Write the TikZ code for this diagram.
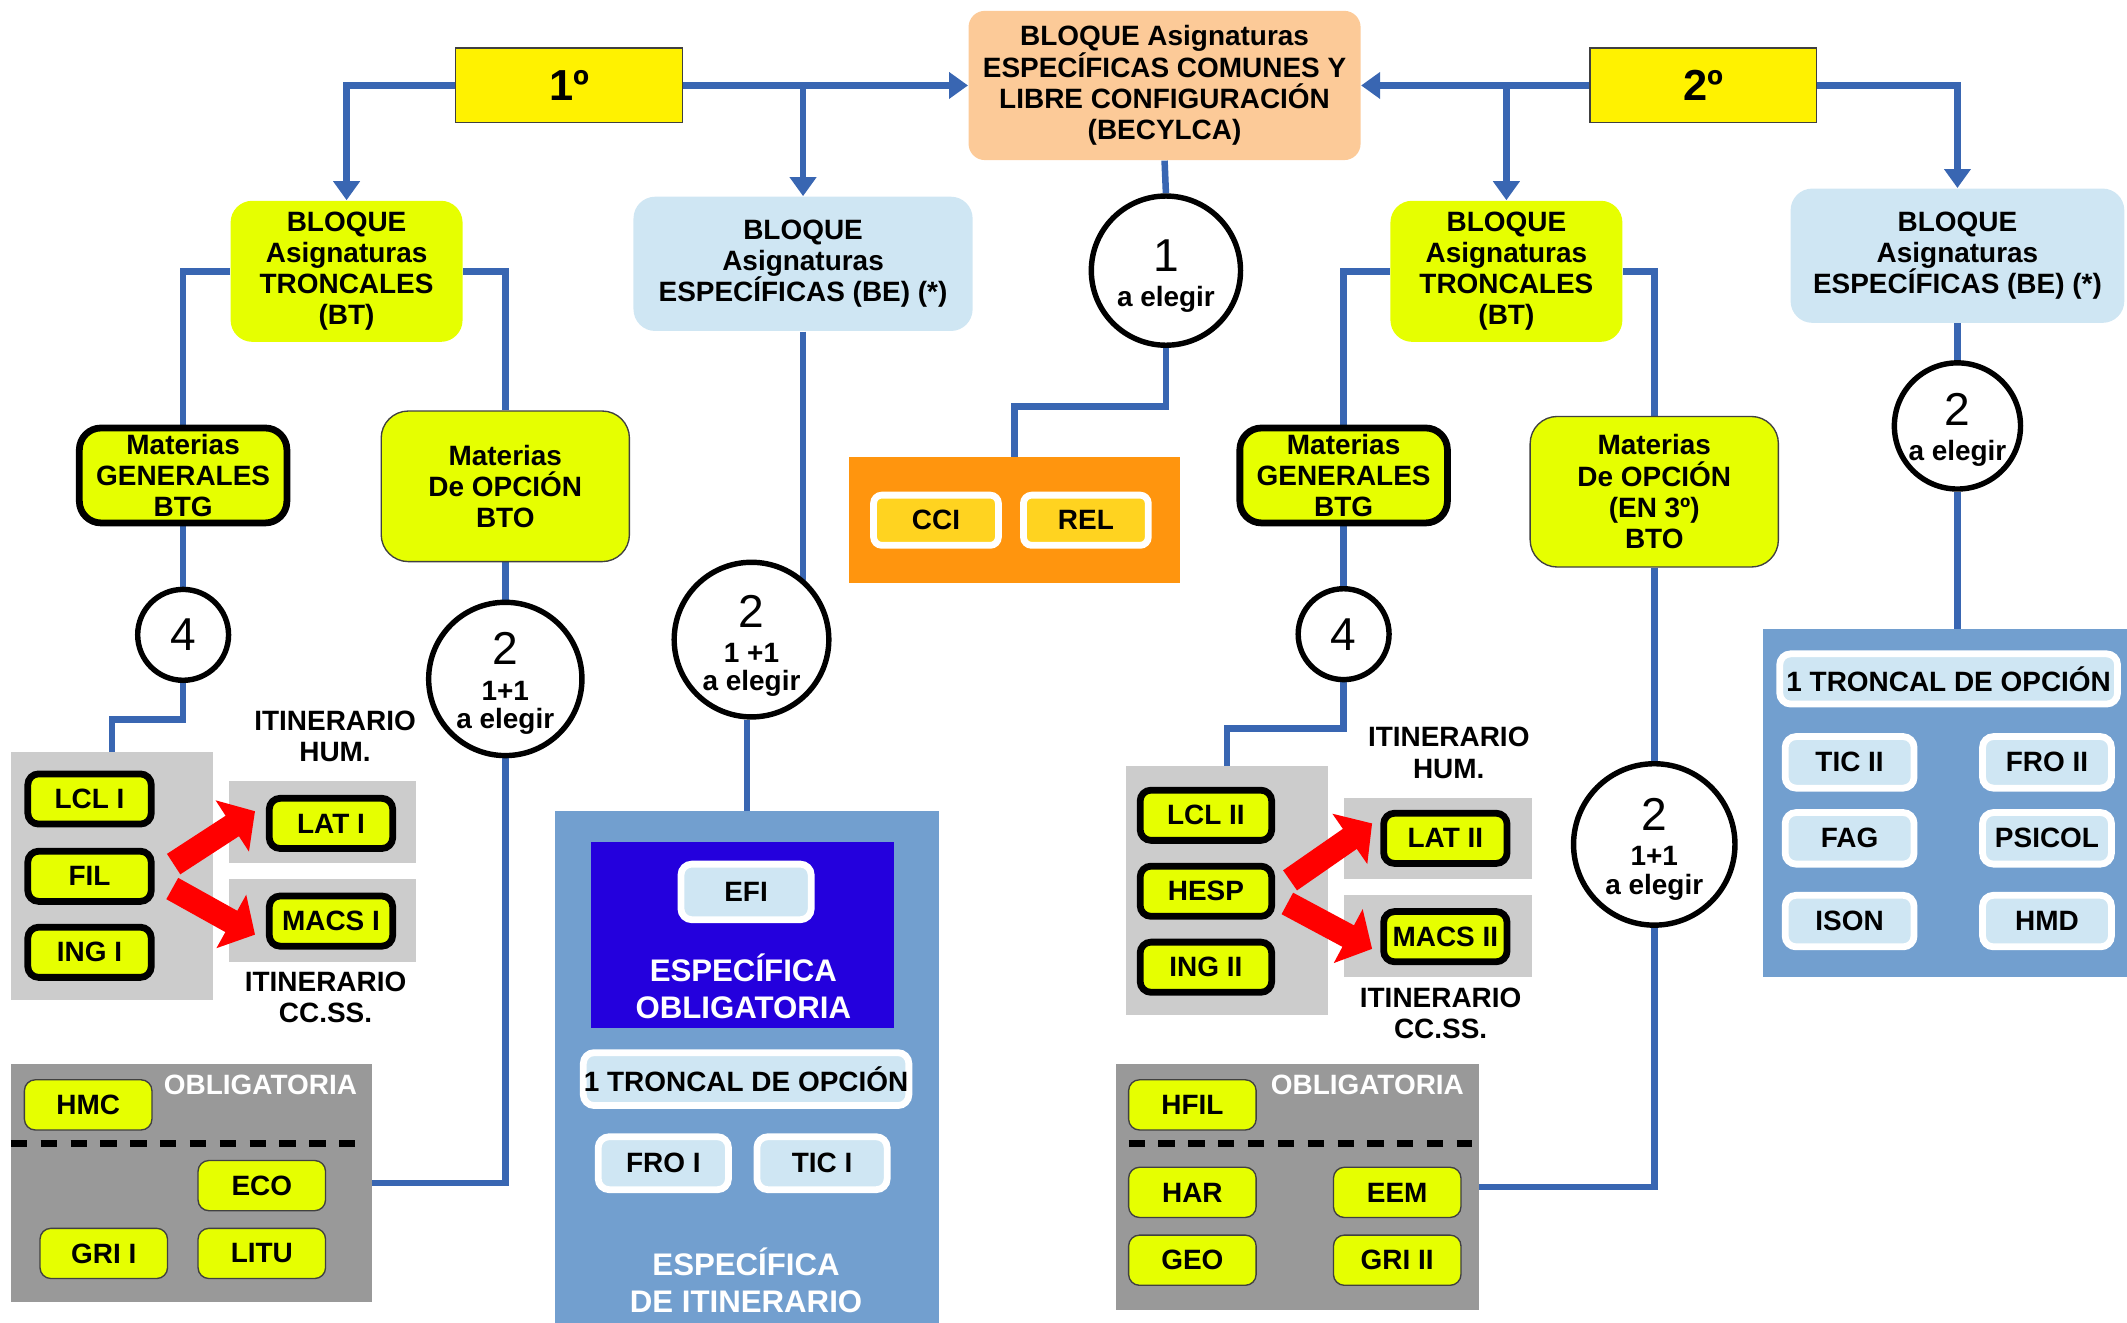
\documentclass[tikz,border=0pt]{standalone}
\usepackage{fontspec}
\setmainfont{Liberation Sans}
\usetikzlibrary{arrows.meta,backgrounds,calc}
\definecolor{lineblue}{RGB}{57,102,178}
\definecolor{lime}{RGB}{230,255,0}
\definecolor{peach}{RGB}{252,202,152}
\definecolor{paleblue}{RGB}{207,230,243}
\definecolor{panelblue}{RGB}{114,159,207}
\definecolor{deepblue}{RGB}{36,0,221}
\definecolor{orangebg}{RGB}{255,149,14}
\definecolor{gold}{RGB}{255,211,32}
\definecolor{lgray}{RGB}{204,204,204}
\definecolor{dgray}{RGB}{153,153,153}

\begin{document}
\begin{tikzpicture}[x=0.5pt, y=-0.5pt, font=\bfseries\fontsize{10.3}{11.5}\selectfont]
\tikzstyle{bloq}=[rounded corners=8pt, align=center, inner sep=0pt]
\tikzstyle{year}=[bloq, rounded corners=0pt, fill=yellow, draw=black!75, line width=0.5pt, minimum width=83.5pt, minimum height=27.5pt, font=\bfseries\fontsize{16}{18}\selectfont]
\tikzstyle{trunk}=[bloq, fill=lime, minimum width=85.5pt, minimum height=52pt]
\tikzstyle{spec}=[bloq, fill=paleblue, minimum width=125pt, minimum height=49.5pt]
\tikzstyle{general}=[bloq, fill=lime, draw=black, line width=2.5pt, minimum width=76.5pt, minimum height=35pt]
\tikzstyle{option}=[bloq, rounded corners=10pt, fill=lime, draw=black!75, line width=0.5pt, minimum width=91.5pt, minimum height=55.5pt]
\tikzstyle{course}=[bloq, rounded corners=4pt, fill=lime, draw=black, line width=2.5pt, minimum width=45.5pt, minimum height=18.5pt]
\tikzstyle{plain}=[bloq, rounded corners=4pt, fill=lime, draw=black!75, line width=0.5pt, minimum width=47pt, minimum height=18.5pt]
\tikzstyle{chip}=[bloq, rounded corners=4pt, fill=paleblue, draw=white, line width=2.5pt, minimum width=48pt, minimum height=19.5pt]
\tikzstyle{free}=[bloq, rounded corners=3pt, fill=gold, draw=white, line width=2.5pt, minimum width=46pt, minimum height=18.5pt]
\tikzstyle{zone}=[inner sep=0pt, outer sep=0pt]
\tikzstyle{ring}=[circle, draw=black, line width=2pt, fill=white, inner sep=0pt]
\tikzstyle{digit}=[font=\mdseries\fontsize{17}{20}\selectfont]
\tikzstyle{whitetxt}=[align=center, text=white, font=\bfseries\fontsize{11.5}{13.5}\selectfont]
\tikzstyle{link}=[draw=lineblue, line width=2.4pt]
\tikzstyle{tip}=[-{Triangle[length=7pt,width=9.5pt]}]
\tikzstyle{push}=[draw=red, line width=9pt, -{Triangle[length=10pt,width=22pt]}]

\useasboundingbox (0,0) rectangle (1568,975);

% top row
\node[year] (first) at (419.5,63) {1º};
\node[year] (second) at (1255.5,63) {2º};
\node[bloq, fill=peach, rounded corners=6pt, minimum width=144.5pt, minimum height=55pt] (becyl) at (858.5,63) {BLOQUE Asignaturas\\ESPECÍFICAS COMUNES Y\\LIBRE CONFIGURACIÓN\\(BECYLCA)};

\node[trunk] (bt1) at (255.5,200) {BLOQUE\\Asignaturas\\TRONCALES\\(BT)};
\node[spec] (be1) at (592,194.5) {BLOQUE\\Asignaturas\\ESPECÍFICAS (BE) (*)};
\node[trunk] (bt2) at (1110.5,200) {BLOQUE\\Asignaturas\\TRONCALES\\(BT)};
\node[spec, minimum width=123pt] (be2) at (1443,188.5) {BLOQUE\\Asignaturas\\ESPECÍFICAS (BE) (*)};

% BECYLCA
\node[ring, minimum size=55pt] (pick1) at (859.5,199.5) {};
\node[digit] (pick1n) at ($(pick1)+(0,-11)$) {1};
\node (pick1t) at ($(pick1)+(0,21)$) {a elegir};
\node[zone, fill=orangebg, minimum width=122pt, minimum height=46.5pt] (orb) at (748,383.5) {};
\node[free] (cci) at (690,383.5) {CCI};
\node[free] (rel) at (800.5,383.5) {REL};

% 1º troncales
\node[general] (mg1) at (135,350.5) {Materias\\GENERALES\\BTG};
\node[option] (mo1) at (372.5,358.5) {Materias\\De OPCIÓN\\BTO};
\node[ring, minimum size=33.5pt] (four1) at (135,468) {};
\node[digit] (four1n) at (four1) {4};
\node[ring, minimum size=56.5pt] (pick2) at (372.5,500.5) {};
\node[digit] (pick2n) at ($(pick2)+(0,-22.5)$) {2};
\node (pick2m) at ($(pick2)+(0,8.5)$) {1+1};
\node (pick2t) at ($(pick2)+(0,31.5)$) {a elegir};

\node[zone, fill=lgray, minimum width=74.5pt, minimum height=91.5pt] (gb1) at (82.5,645.5) {};
\node[course] (lcl1) at (66,589) {LCL I};
\node[course] (fil) at (66,646) {FIL};
\node[course] (ing1) at (66,702) {ING I};
\node[zone, fill=lgray, minimum width=69pt, minimum height=30pt] (glat1) at (238,606) {};
\node[course] (lat1) at (244,607) {LAT I};
\node[zone, fill=lgray, minimum width=69pt, minimum height=30.5pt] (gmacs1) at (238,678.5) {};
\node[course] (macs1) at (244,679) {MACS I};
\node[align=center] (hum1) at (247,543) {ITINERARIO\\HUM.};
\node[align=center] (ccss1) at (240,735) {ITINERARIO\\CC.SS.};

\node[zone, fill=dgray, minimum width=133pt, minimum height=88pt] (gb2) at (141,872) {};
\node[plain] (hmc) at (65,814.5) {HMC};
\node[text=white] (obl1) at (192,800) {OBLIGATORIA};
\node[plain] (eco) at (193,874) {ECO};
\node[plain] (gri1) at (76.5,924) {GRI I};
\node[plain] (litu) at (193,924) {LITU};
\draw[line width=2.5pt, dash pattern=on 6pt off 5pt] ([yshift=14.5pt]gb2.west) -- ([yshift=14.5pt, xshift=-6pt]gb2.east);

% 1º especificas
\node[ring, minimum size=57pt] (pick3) at (554,471.5) {};
\node[digit] (pick3n) at ($(pick3)+(0,-20.5)$) {2};
\node (pick3m) at ($(pick3)+(0,9.5)$) {1 +1};
\node (pick3t) at ($(pick3)+(0,32.5)$) {a elegir};
\node[zone, fill=panelblue, minimum width=141.5pt, minimum height=188.5pt] (bp1) at (550.5,786.5) {};
\node[zone, fill=deepblue, minimum width=111.5pt, minimum height=68.5pt] (oblig) at (547.5,689.5) {};
\node[chip, minimum height=20.5pt] (efi) at (550,657.5) {EFI};
\node[whitetxt] (obltxt) at (548,727) {ESPECÍFICA\\OBLIGATORIA};
\node[chip, minimum width=120pt] (tro1) at (550,795.5) {1 TRONCAL DE OPCIÓN};
\node[chip] (fro1) at (489,857.5) {FRO I};
\node[chip] (tic1) at (606,857.5) {TIC I};
\node[whitetxt] (itintxt) at (550,944) {ESPECÍFICA\\DE ITINERARIO};

% 2º troncales
\node[general] (mg2) at (990.5,350.5) {Materias\\GENERALES\\BTG};
\node[option] (mo2) at (1219.5,362.5) {Materias\\De OPCIÓN\\(EN 3º)\\BTO};
\node[ring, minimum size=33.5pt] (four2) at (990.5,467.5) {};
\node[digit] (four2n) at (four2) {4};
\node[ring, minimum size=59.5pt] (pick4) at (1219.5,622.5) {};
\node[digit] (pick4n) at ($(pick4)+(0,-22.5)$) {2};
\node (pick4m) at ($(pick4)+(0,8.5)$) {1+1};
\node (pick4t) at ($(pick4)+(0,31.5)$) {a elegir};

\node[zone, fill=lgray, minimum width=74.5pt, minimum height=91.5pt] (gb3) at (904.5,656.5) {};
\node[course, minimum width=48.5pt] (lcl2) at (889,601) {LCL II};
\node[course, minimum width=48.5pt] (hesp) at (889,657) {HESP};
\node[course, minimum width=48.5pt] (ing2) at (889,713) {ING II};
\node[zone, fill=lgray, minimum width=69pt, minimum height=30pt] (glat2) at (1060,618) {};
\node[course] (lat2) at (1065.5,618) {LAT II};
\node[zone, fill=lgray, minimum width=69pt, minimum height=30pt] (gmacs2) at (1060,690) {};
\node[course] (macs2) at (1065.5,690.5) {MACS II};
\node[align=center] (hum2) at (1068,555) {ITINERARIO\\HUM.};
\node[align=center] (ccss2) at (1062,747) {ITINERARIO\\CC.SS.};

\node[zone, fill=dgray, minimum width=133.5pt, minimum height=91pt] (gb4) at (956.5,875) {};
\node[plain] (hfil) at (879,814.5) {HFIL};
\node[text=white] (obl2) at (1008,800) {OBLIGATORIA};
\node[plain] (har) at (879,879) {HAR};
\node[plain] (eem) at (1030,879) {EEM};
\node[plain] (geo) at (879,929) {GEO};
\node[plain] (gri2) at (1030,929) {GRI II};
\draw[line width=2.5pt, dash pattern=on 6pt off 5pt] ([yshift=16pt, xshift=4.5pt]gb4.west) -- ([yshift=16pt, xshift=-2.5pt]gb4.east);

% 2º especificas
\node[ring, minimum size=46.5pt] (pick5) at (1443,314) {};
\node[digit] (pick5n) at ($(pick5)+(0,-12)$) {2};
\node (pick5t) at ($(pick5)+(0,20)$) {a elegir};
\node[zone, fill=panelblue, minimum width=134pt, minimum height=128pt] (bp2) at (1434,592) {};
\node[chip, minimum width=124.5pt, minimum height=18.5pt] (tro2) at (1436.5,500.5) {1 TRONCAL DE OPCIÓN};
\node[chip, minimum width=47.5pt, minimum height=19pt] (tic2) at (1363.5,562) {TIC II};
\node[chip, minimum width=47.5pt, minimum height=19pt] (fro2) at (1509,562) {FRO II};
\node[chip, minimum width=47.5pt, minimum height=19pt] (fag) at (1363.5,618) {FAG};
\node[chip, minimum width=47.5pt, minimum height=19pt] (psicol) at (1509,618) {PSICOL};
\node[chip, minimum width=47.5pt, minimum height=19pt] (ison) at (1363.5,679) {ISON};
\node[chip, minimum width=47.5pt, minimum height=19pt] (hmd) at (1509,679) {HMD};

% red arrows
\draw[push] ($(fil.east)+(14,-9)$) -- ($(lat1.west)+(-8,-9)$);
\draw[push] ($(fil.east)+(13,9)$) -- ($(macs1.west)+(-8,10)$);
\draw[push] ($(hesp.east)+(11,-8)$) -- ($(lat2.west)+(-6,-11)$);
\draw[push] ($(hesp.east)+(9,9)$) -- ($(macs2.west)+(-6,9)$);

% connectors
\begin{scope}[on background layer]
\coordinate (split1) at (be1.north |- first.east);
\coordinate (split2) at (bt2.north |- second.west);
\draw[link, tip] (first.west) -| (bt1.north);
\draw[link, tip] (first.east) -- (becyl.west);
\draw[link, tip] (split1) -- (be1.north);
\draw[link, tip] (second.west) -- (becyl.east);
\draw[link, tip] (split2) -- (bt2.north);
\draw[link, tip] (second.east) -| (be2.north);

\draw[link] (becyl.south) -- (pick1.north);
\draw[link] (pick1.south) -- ++(0,43) -| (orb.north);

\draw[link] (bt1.west) -| (mg1.north);
\draw[link] (bt1.east) -| (mo1.north);
\draw[link] (mg1.south) -- (four1.north);
\draw[link] (four1.south) -- ++(0,27) -| (gb1.north);
\draw[link] (mo1.south) -- (pick2.north);
\draw[link] (pick2.south) |- (gb2.east);

\draw[link] (be1.south) -- (be1.south |- pick3.center);
\draw[link] (pick3.south -| bp1.north) -- (bp1.north);

\draw[link] (bt2.west) -| (mg2.north);
\draw[link] (bt2.east) -| (mo2.north);
\draw[link] (mg2.south) -- (four2.north);
\draw[link] (four2.south) -- ++(0,34) -| (gb3.north);
\draw[link] (mo2.south) -- (pick4.north);
\draw[link] (pick4.south) |- (gb4.east);

\draw[link] (be2.south) -- (pick5.north);
\draw[link] (pick5.south) -- (pick5.south |- bp2.north);
\end{scope}

\end{tikzpicture}
\end{document}
